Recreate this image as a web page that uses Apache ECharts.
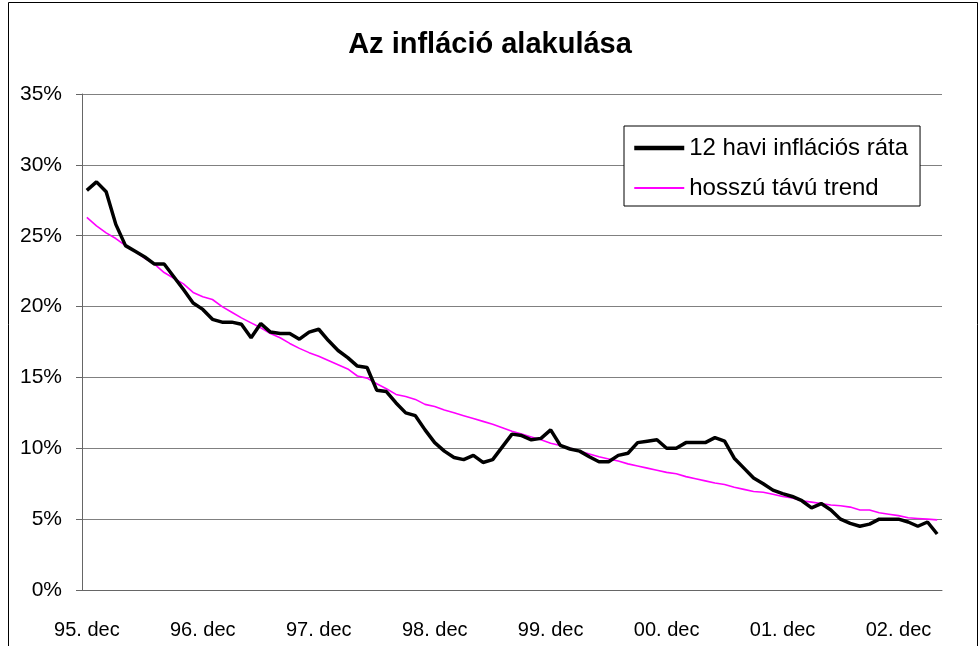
<!DOCTYPE html>
<html>
<head>
<meta charset="utf-8">
<script src="https://cdn.jsdelivr.net/npm/echarts@6/dist/echarts.min.js"></script>
<style>
html,body{margin:0;padding:0;background:#fff;}
#c{width:980px;height:646px;}
</style>
</head>
<body>
<div id="c"></div>
<script>
// Categories: monthly from 95. dec to 03. apr
const monthNames = ['jan','feb','már','ápr','máj','jún','júl','aug','szep','okt','nov','dec'];
const startYear = 95, startMonth = 11, pointCount = 89;
const categories = [];
for (let i = 0; i < pointCount; i++) {
  const m = (startMonth + i) % 12;
  const y = (startYear + Math.floor((startMonth + i) / 12)) % 100;
  categories.push((y < 10 ? '0' + y : '' + y) + '. ' + monthNames[m]);
}

const inflation = [
  28.2, 28.8, 28.1, 25.8, 24.3, 23.9, 23.5, 23.0, 23.0, 22.1,
  21.2, 20.25, 19.8, 19.1, 18.9, 18.9, 18.75, 17.8, 18.8, 18.2,
  18.1, 18.1, 17.7, 18.2, 18.4, 17.6, 16.9, 16.4, 15.8, 15.7,
  14.1, 14.0, 13.2, 12.5, 12.3, 11.3, 10.4, 9.8, 9.35, 9.2,
  9.5, 9.0, 9.2, 10.1, 11.0, 10.9, 10.6, 10.7, 11.3, 10.2,
  9.95, 9.8, 9.4, 9.05, 9.05, 9.5, 9.65, 10.4, 10.5, 10.6,
  10.0, 10.0, 10.4, 10.4, 10.4, 10.75, 10.5, 9.3, 8.6, 7.9,
  7.5, 7.05, 6.8, 6.6, 6.3, 5.8, 6.1, 5.65, 5.0, 4.7,
  4.5, 4.65, 5.0, 5.0, 5.0, 4.8, 4.5, 4.8, 3.95
];

const trend = [
  26.3, 25.7, 25.2, 24.8, 24.3, 23.9, 23.4, 23.0, 22.4, 22.0,
  21.6, 21.0, 20.7, 20.5, 20.0, 19.6, 19.2, 18.85, 18.5, 18.1,
  17.8, 17.4, 17.05, 16.75, 16.5, 16.2, 15.9, 15.6, 15.1, 14.95,
  14.55, 14.2, 13.8, 13.65, 13.45, 13.1, 12.95, 12.7, 12.5, 12.3,
  12.1, 11.9, 11.7, 11.45, 11.2, 11.0, 10.8, 10.6, 10.35, 10.2,
  10.0, 9.8, 9.6, 9.4, 9.25, 9.1, 8.9, 8.75, 8.6, 8.45,
  8.3, 8.2, 8.0, 7.85, 7.7, 7.55, 7.45, 7.25, 7.1, 6.95,
  6.9, 6.75, 6.6, 6.5, 6.3, 6.2, 6.1, 6.0, 5.95, 5.85,
  5.65, 5.65, 5.45, 5.35, 5.25, 5.1, 5.05, 5.0, 4.95
];

const yTicks = { min: 0, max: 35, interval: 5 };
const titleText = 'Az infláció alakulása';
const seriesNames = ['12 havi inflációs ráta', 'hosszú távú trend'];

const font = 'Liberation Sans, Arial, sans-serif';
const chart = echarts.init(document.getElementById('c'), null, { renderer: 'canvas' });
chart.setOption({
  animation: false,
  backgroundColor: '#ffffff',
  textStyle: { fontFamily: font },
  graphic: [{
    type: 'rect',
    shape: { x: 8.5, y: 2.5, width: 969, height: 700 },
    style: { fill: 'none', stroke: '#000', lineWidth: 1 },
    silent: true, z: -1
  }],
  title: {
    text: titleText,
    left: 'center',
    top: 25,
    textStyle: { fontFamily: font, fontSize: 29, fontWeight: 'bold', color: '#000' }
  },
  legend: {
    orient: 'vertical',
    left: 624,
    top: 126,
    backgroundColor: '#fff',
    borderColor: '#000',
    borderWidth: 1,
    padding: [10, 12, 6, 8],
    itemWidth: 50,
    itemHeight: 14,
    itemGap: 16,
    itemStyle: { color: 'transparent', borderColor: 'transparent', borderWidth: 0 },
    textStyle: { fontFamily: font, fontSize: 24, color: '#000' },
    data: [
      { name: seriesNames[0], lineStyle: { width: 4.5, color: '#000' } },
      { name: seriesNames[1], lineStyle: { width: 2, color: '#ff00ff' } }
    ]
  },
  grid: { left: 82, right: 38, top: 94, bottom: 56, containLabel: false },
  xAxis: {
    type: 'category',
    data: categories,
    boundaryGap: true,
    axisLine: { lineStyle: { color: '#666', width: 1 } },
    axisTick: { interval: 11, length: 6, lineStyle: { color: '#666' } },
    axisLabel: { interval: 11, margin: 30, fontSize: 20, color: '#000', fontFamily: font },
    splitLine: { show: false }
  },
  yAxis: {
    type: 'value',
    min: yTicks.min, max: yTicks.max, interval: yTicks.interval,
    axisLine: { show: true, lineStyle: { color: '#666', width: 1 } },
    axisTick: { show: true, length: 6, lineStyle: { color: '#666' } },
    axisLabel: { formatter: '{value}%', margin: 20, fontSize: 21, color: '#000', fontFamily: font },
    splitLine: { show: true, lineStyle: { color: '#808080', width: 1 } }
  },
  series: [
    {
      name: seriesNames[0], type: 'line', data: inflation,
      symbol: 'none', lineStyle: { color: '#000', width: 3.5 }, itemStyle: { color: '#000' }, z: 3
    },
    {
      name: seriesNames[1], type: 'line', data: trend,
      symbol: 'none', lineStyle: { color: '#ff00ff', width: 1.6 }, itemStyle: { color: '#ff00ff' }, z: 2
    }
  ]
});
</script>
</body>
</html>
